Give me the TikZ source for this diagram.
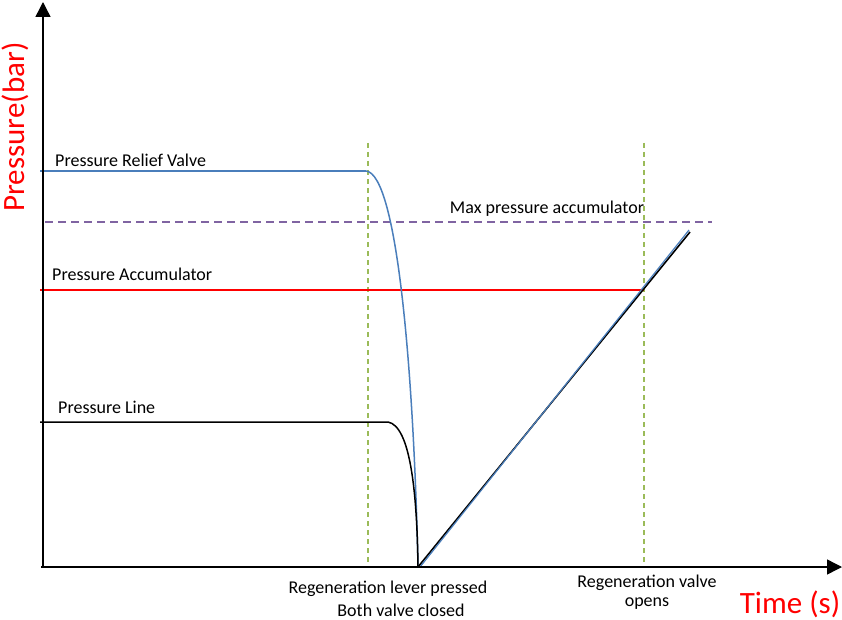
\documentclass[tikz,border=0pt]{standalone}
\usepackage{fontspec}
\setmainfont{Carlito}
\usetikzlibrary{arrows.meta,positioning}
\definecolor{relief}{RGB}{74,126,187}
\definecolor{maxacc}{RGB}{128,100,162}
\definecolor{marker}{RGB}{155,187,89}

\begin{document}
\begin{tikzpicture}[x=1pt,y=-1pt,>=Latex,
  axis/.style={line width=1.4pt,->,>={Triangle[length=15pt,width=15pt]}},
  lbl/.style={font=\fontsize{18}{20}\selectfont,inner sep=0pt},
  axlbl/.style={font=\fontsize{31}{34}\selectfont,text=red,inner sep=0pt},
  event/.style={marker,line width=1.2pt,dash pattern=on 5pt off 4pt}]
  \useasboundingbox (0,0) rectangle (842,620);
  \coordinate (o) at (43,567);
  \coordinate (ytop) at (43,2);
  \coordinate (xend) at (842,567);
  \coordinate (drop) at (418,567);
  \coordinate (top) at (690,232);
  % event markers
  \coordinate (e1a) at (368,143);
  \coordinate (e1b) at (368,567);
  \coordinate (e2a) at (644,143);
  \coordinate (e2b) at (644,567);
  \draw[event] (e1a) -- (e1b);
  \draw[event] (e2a) -- (e2b);
  % pressure levels
  \coordinate (mx0) at (45,222);
  \coordinate (mx1) at (712,222);
  \draw[maxacc,line width=1.3pt,dash pattern=on 8pt off 5pt] (mx0) -- (mx1);
  \coordinate (ac0) at (40,290);
  \coordinate (ac1) at (644,290);
  \draw[red,line width=1.3pt] (ac0) -- (ac1);
  \coordinate (rv0) at (40,171);
  \coordinate (rv1) at (366,171);
  \draw[relief,line width=2pt] (rv0) -- (rv1);
  \draw[relief,line width=1.5pt] (rv1)
    .. controls (398,174) and (414,380) .. (drop);
  \coordinate (pl0) at (40,422);
  \coordinate (pl1) at (388,422);
  \draw[line width=1.5pt] (pl0) -- (pl1)
    .. controls (410,426) and (417,490) .. (drop);
  % regeneration ramp
  \draw[line width=1.6pt] (drop) -- (top);
  \draw[relief,line width=1.2pt] ([xshift=2pt]drop) -- ([xshift=-1pt,yshift=2pt]top);
  \draw[axis] (o) -- (ytop);
  \draw[axis] ([xshift=-2pt]o) -- (xend);
  % labels
  \node[lbl,anchor=west] (lrv) at (55,160) {Pressure Relief Valve};
  \node[lbl] (lmx) at (547,209) {Max pressure accumulator};
  \node[lbl,anchor=west] (lac) at (52,274) {Pressure Accumulator};
  \node[lbl,anchor=west] (lpl) at (58,407) {Pressure Line};
  \node[lbl] (lev1) at (388,589) {Regeneration lever pressed};
  \node[lbl] (lev1b) at (401,610) {Both valve closed};
  \node[lbl] (lev2) at (647,583) {Regeneration valve};
  \node[lbl] (lev2b) at (647,604) {opens};
  \node[axlbl,rotate=90] (ylab) at (15,127) {Pressure(bar)};
  \node[axlbl] (xlab) at (790,604) {Time (s)};
\end{tikzpicture}
\end{document}
